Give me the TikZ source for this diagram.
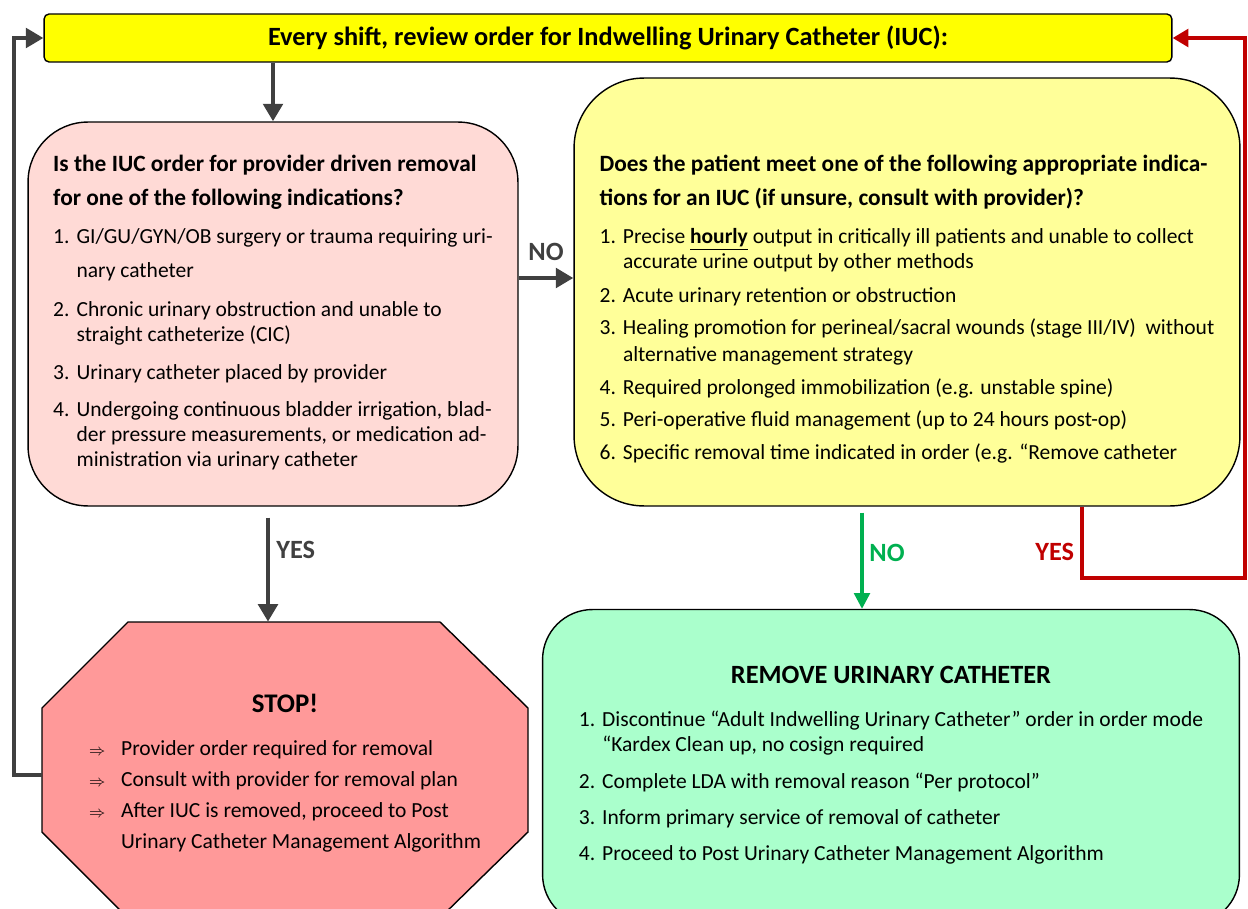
\documentclass[tikz,border=0pt]{standalone}
\usepackage{fontspec}
\setmainfont{Carlito}
\usetikzlibrary{arrows.meta}

\definecolor{topyellow}{RGB}{255,255,0}
\definecolor{qpink}{RGB}{255,218,214}
\definecolor{qyellow}{RGB}{255,255,153}
\definecolor{stoppink}{RGB}{255,153,153}
\definecolor{remgreen}{RGB}{170,255,204}
\definecolor{arrowgray}{RGB}{64,64,64}
\definecolor{nogreen}{RGB}{0,176,80}
\definecolor{yesred}{RGB}{192,0,0}

\newcommand{\boxtitle}{\bfseries\fontsize{13.3}{15}\selectfont}
\newcommand{\stoparrow}{{\fontsize{9}{10}\selectfont$\Rightarrow$}}

\begin{document}
\begin{tikzpicture}[x=0.02cm,y=-0.02cm,
  box/.style={draw, line width=0.8pt, font=\fontsize{12.25}{14.2}\selectfont},
  gArrow/.style={line width=2.8pt, draw=arrowgray, -{Triangle[length=10pt,width=11pt]}},
  greenArrow/.style={line width=1.8pt, draw=nogreen, -{Triangle[length=9pt,width=9pt]}},
  redArrow/.style={line width=2.3pt, draw=yesred, -{Triangle[length=9pt,width=10pt]}},
  lbl/.style={font=\fontsize{15}{17}\selectfont\bfseries}]

\useasboundingbox (0,0) rectangle (1248,909);

% boxes
\path (608,38) node (Rev) [box, fill=topyellow, rounded corners=0.1cm,
  minimum width=22.56cm, minimum height=0.96cm, font=\fontsize{15}{17}\selectfont\bfseries]
  {Every shift, review order for Indwelling Urinary Catheter (IUC):};

\path (273,314) node (Q1) [box, fill=qpink, rounded corners=1.2cm,
  minimum width=9.8cm, minimum height=7.68cm] {%
\begin{tabular}{@{}l@{\hspace{4pt}}l@{}}
\multicolumn{2}{@{}l@{}}{\boxtitle Is the IUC order for provider driven removal}\\[5pt]
\multicolumn{2}{@{}l@{}}{\boxtitle for one of the following indications?}\\[7.5pt]
1. & GI/GU/GYN/OB surgery or trauma requiring uri-\\[5pt]
   & nary catheter\\[8.3pt]
2. & Chronic urinary obstruction and unable to\\
   & straight catheterize (CIC)\\[7.4pt]
3. & Urinary catheter placed by provider\\[6.8pt]
4. & Undergoing continuous bladder irrigation, blad-\\
   & der pressure measurements, or medication ad-\\
   & ministration via urinary catheter
\end{tabular}};

\path (907,292) node (Q2) [box, fill=qyellow, rounded corners=1.4cm,
  minimum width=13.32cm, minimum height=8.56cm] {%
\begin{tabular}{@{}l@{\hspace{4pt}}l@{}}
\multicolumn{2}{@{}l@{}}{\rule{0pt}{31pt}\boxtitle Does the patient meet one of the following appropriate indica-}\\[5pt]
\multicolumn{2}{@{}l@{}}{\boxtitle tions for an IUC (if unsure, consult with provider)?}\\[7.5pt]
1. & Precise \underline{\textbf{hourly}} output in critically ill patients and unable to collect\\
   & accurate urine output by other methods\\[5pt]
2. & Acute urinary retention or obstruction\\[4.3pt]
3. & Healing promotion for perineal/sacral wounds (stage III/IV)\ \ without\\[1pt]
   & alternative management strategy\\[4.3pt]
4. & Required prolonged immobilization (e.g. unstable spine)\\[4.3pt]
5. & Peri-operative fluid management (up to 24 hours post-op)\\[4.3pt]
6. & Specific removal time indicated in order (e.g. “Remove catheter
\end{tabular}};

% stop sign
\draw [line width=0.8pt, fill=stoppink] (128,622) -- (440,622) -- (528,708) -- (528,832)
  -- (440,918) -- (128,918) -- (42,832) -- (42,708) -- cycle;
\path (285,775) node (Stop) [font=\fontsize{12.25}{14.2}\selectfont,
  minimum width=9.72cm, minimum height=6.12cm] {%
\begin{tabular}{@{}l@{\hspace{9pt}}l@{}}
\multicolumn{2}{@{}c@{}}{\bfseries\fontsize{15.3}{17}\selectfont STOP!}\\[10pt]
\stoparrow & Provider order required for removal\\[3.4pt]
\stoparrow & Consult with provider for removal plan\\[3.4pt]
\stoparrow & After IUC is removed, proceed to Post\\[3.4pt]
           & Urinary Catheter Management Algorithm
\end{tabular}};

\path (891,767) node (Rem) [box, fill=remgreen, rounded corners=1cm,
  minimum width=13.94cm, minimum height=6.3cm] {%
\begin{tabular}{@{}l@{\hspace{4pt}}l@{}}
\multicolumn{2}{@{}c@{}}{\bfseries\fontsize{15}{17}\selectfont REMOVE URINARY CATHETER}\\[10pt]
1. & Discontinue “Adult Indwelling Urinary Catheter” order in order mode\\
   & “Kardex Clean up, no cosign required\\[6.8pt]
2. & Complete LDA with removal reason “Per protocol”\\[6.3pt]
3. & Inform primary service of removal of catheter\\[6.3pt]
4. & Proceed to Post Urinary Catheter Management Algorithm
\end{tabular}};

% connectors
\draw [gArrow] (Q1 |- Rev.south) -- (Q1);
\draw [gArrow] (Q1.east |- 0,278) -- (Q2.west |- 0,278)
  node [lbl, midway, above=5pt, text=arrowgray] {NO};
\draw [gArrow, shorten <=0.22cm] (Q1.south -| 268,0) -- (Stop.north -| 268,0)
  node [lbl, right, pos=0.38, text=arrowgray] {YES};
\draw [greenArrow, shorten <=0.12cm] (Q2.south -| 862,0) -- (Rem.north -| 862,0)
  node [lbl, right, pos=0.45, text=nogreen] {NO};
\draw [redArrow] (Q2.south -| 1082,0) |- node [lbl, left, pos=0.32, text=yesred] {YES}
  (1245,578) |- (Rev.east);
\draw [gArrow] (Stop.west) -| (14,400) |- (Rev.west);

\end{tikzpicture}
\end{document}
